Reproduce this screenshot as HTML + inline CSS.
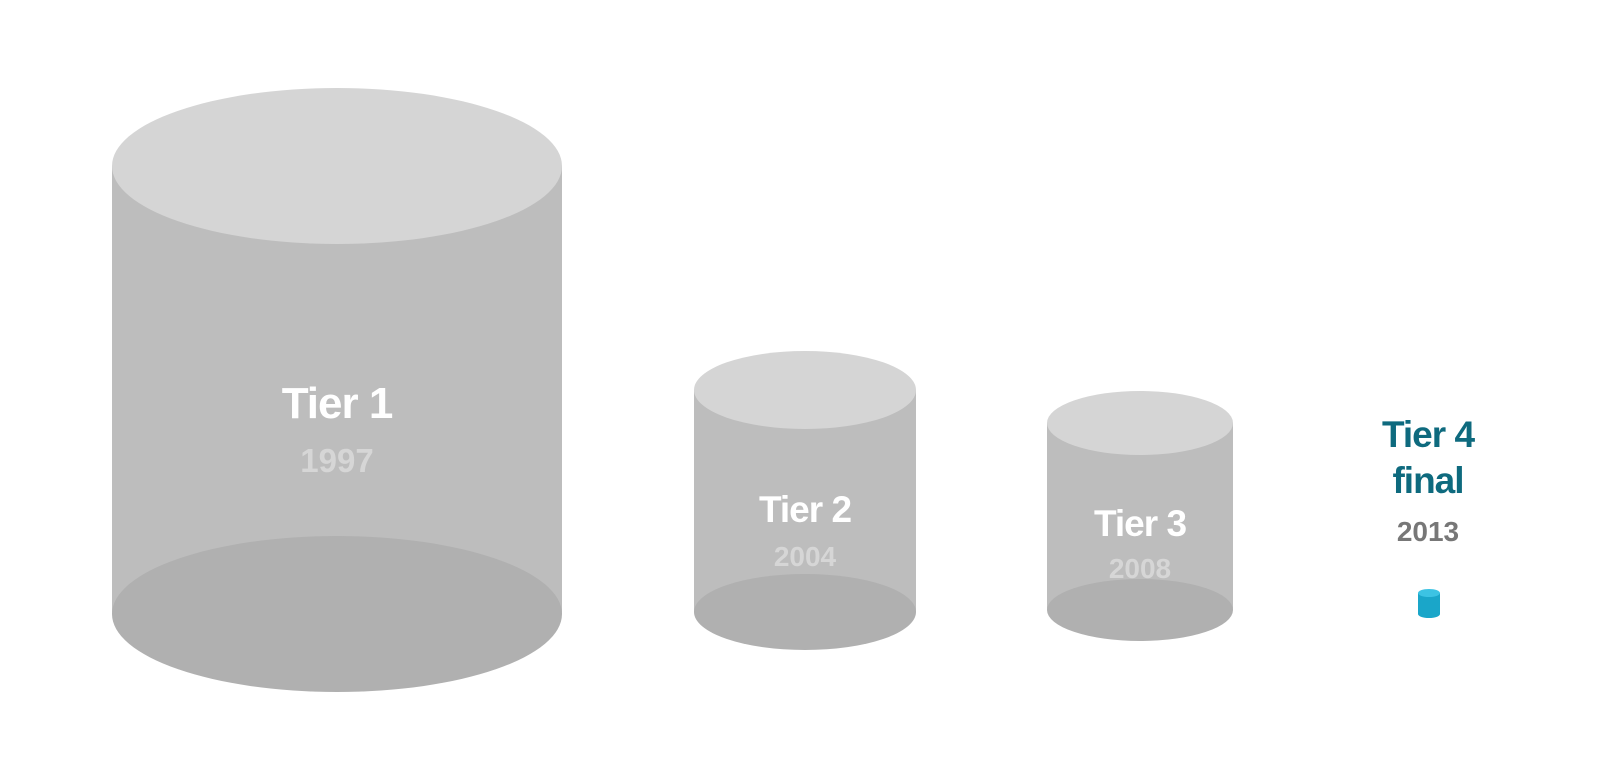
<!DOCTYPE html>
<html><head><meta charset="utf-8"><style>
html,body{margin:0;padding:0;background:#fff;}
svg{display:block;}
text{font-family:"Liberation Sans",sans-serif;font-weight:bold;text-anchor:middle;}
</style></head><body>
<svg width="1600" height="780" viewBox="0 0 1600 780" xmlns="http://www.w3.org/2000/svg">
<!-- Tier 1 -->
<rect x="112" y="166" width="450" height="448" fill="#bdbdbd"/>
<ellipse cx="337" cy="614" rx="225" ry="78" fill="#b0b0b0"/>
<ellipse cx="337" cy="166" rx="225" ry="78" fill="#d5d5d5"/>
<text x="337" y="418" font-size="44" fill="#fff" letter-spacing="-1">Tier 1</text>
<text x="337" y="472" font-size="33" fill="#d6d6d6">1997</text>
<!-- Tier 2 -->
<rect x="694" y="390" width="222" height="222" fill="#bdbdbd"/>
<ellipse cx="805" cy="612" rx="111" ry="38" fill="#b0b0b0"/>
<ellipse cx="805" cy="390" rx="111" ry="39" fill="#d5d5d5"/>
<text x="805" y="522" font-size="37" fill="#fff" letter-spacing="-1">Tier 2</text>
<text x="805" y="566" font-size="28" fill="#d6d6d6">2004</text>
<!-- Tier 3 -->
<rect x="1047" y="423" width="186" height="187" fill="#bdbdbd"/>
<ellipse cx="1140" cy="610" rx="93" ry="31" fill="#b0b0b0"/>
<ellipse cx="1140" cy="423" rx="93" ry="32" fill="#d5d5d5"/>
<text x="1140" y="536" font-size="37" fill="#fff" letter-spacing="-1">Tier 3</text>
<text x="1140" y="578" font-size="28" fill="#d6d6d6">2008</text>
<!-- Tier 4 -->
<rect x="1418" y="593" width="22" height="21" fill="#1aa6c9"/>
<ellipse cx="1429" cy="614" rx="11" ry="4" fill="#1aa6c9"/>
<ellipse cx="1429" cy="593" rx="11" ry="4" fill="#3cc3e3"/>
<text x="1428" y="447" font-size="37" fill="#0e6a7e" letter-spacing="-1">Tier 4</text>
<text x="1428" y="493" font-size="37" fill="#0e6a7e" letter-spacing="-1">final</text>
<text x="1428" y="541" font-size="28" fill="#777">2013</text>
</svg>
</body></html>
